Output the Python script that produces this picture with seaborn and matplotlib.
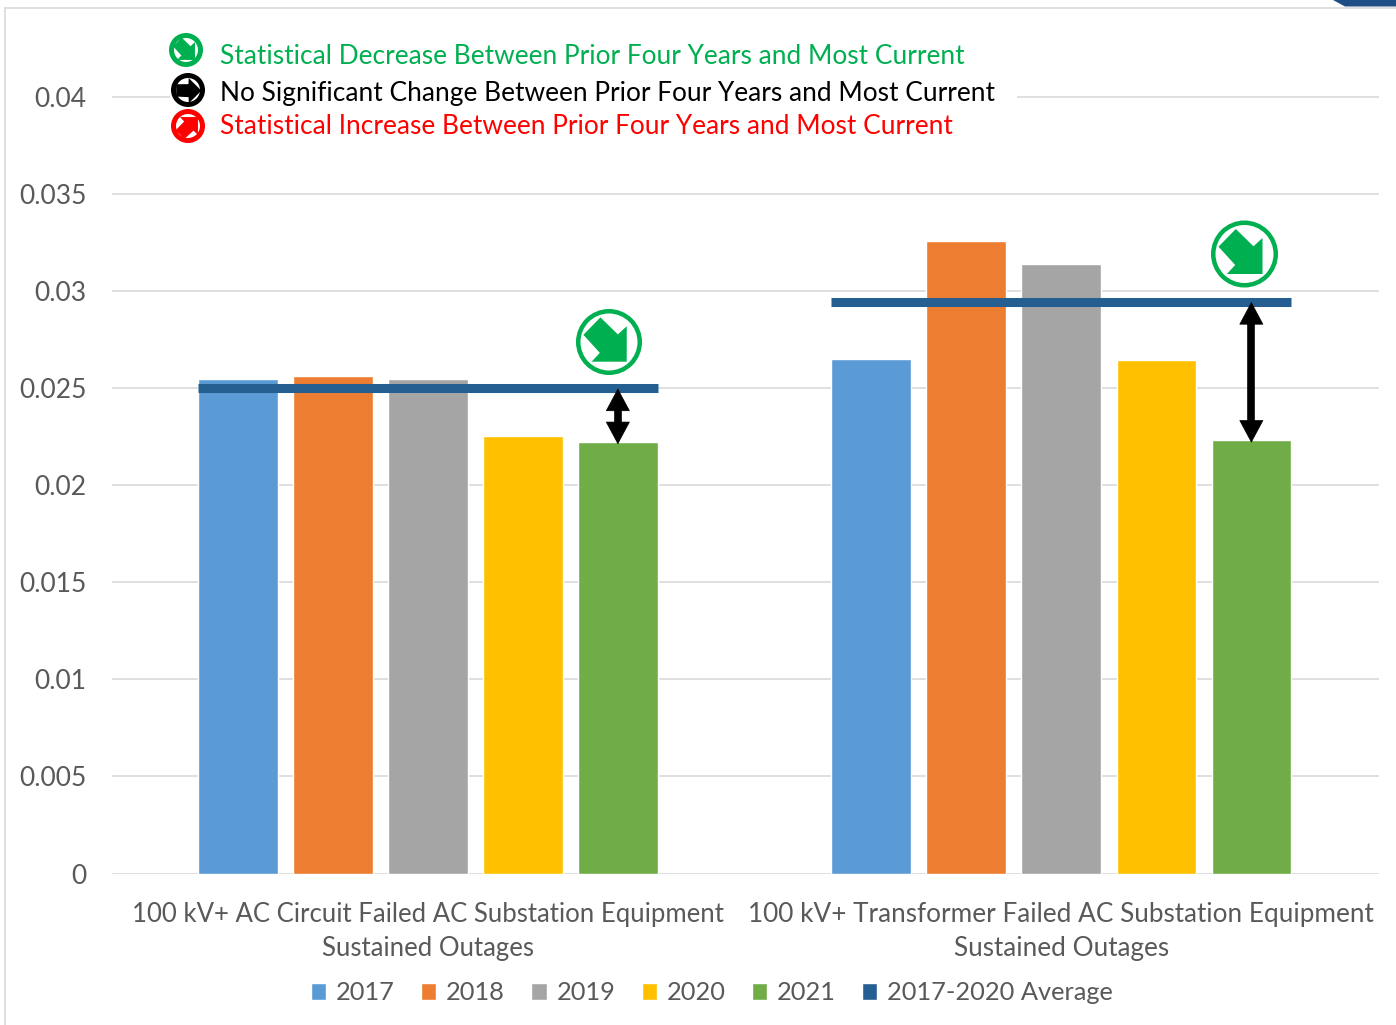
import numpy as np
import pandas as pd
import seaborn as sns
import matplotlib
matplotlib.use("Agg")
import matplotlib.pyplot as plt
from matplotlib.patches import Circle, Polygon, Rectangle, Patch
from matplotlib.lines import Line2D
from matplotlib.transforms import Affine2D

# Outage rates per category and year
categories = [
    "100 kV+ AC Circuit Failed AC Substation Equipment\nSustained Outages",
    "100 kV+ Transformer Failed AC Substation Equipment\nSustained Outages",
]
years = ["2017", "2018", "2019", "2020", "2021"]
rate_2017 = [0.02549, 0.02652]
rate_2018 = [0.02564, 0.03260]
rate_2019 = [0.02549, 0.03142]
rate_2020 = [0.02255, 0.02647]
rate_2021 = [0.02224, 0.02232]
average_2017_2020 = [0.0250, 0.02946]
average_label = "2017-2020 Average"
y_ticks = [0, 0.005, 0.01, 0.015, 0.02, 0.025, 0.03, 0.035, 0.04]
y_tick_labels = ["0", "0.005", "0.01", "0.015", "0.02", "0.025", "0.03", "0.035", "0.04"]
key_texts = [
    "Statistical Decrease Between Prior Four Years and Most Current",
    "No Significant Change Between Prior Four Years and Most Current",
    "Statistical Increase Between Prior Four Years and Most Current",
]

year_colors = ["#5B9BD5", "#ED7D31", "#A5A5A5", "#FFC000", "#70AD47"]
average_color = "#255E91"
green, red = "#00B050", "#FF0000"
text_grey = "#595959"
rule_grey = "#D9D9D9"

W, H = 1396, 1025
sns.set_theme(style="white")
plt.rcParams["font.family"] = ["Lato", "DejaVu Sans"]

rates = pd.DataFrame(
    {"category": categories * 5,
     "year": np.repeat(years, 2),
     "rate": rate_2017 + rate_2018 + rate_2019 + rate_2020 + rate_2021}
)

fig = plt.figure(figsize=(W / 100, H / 100), dpi=100, facecolor="white")
ax = fig.add_axes([112 / W, (H - 873.5) / H, (1379 - 112) / W, (873.5 - 8) / H])

sns.barplot(data=rates, x="category", y="rate", hue="year", palette=year_colors,
            width=0.75, gap=0.162, saturation=1, legend=False, ax=ax)

ax.set_xlim(-0.4985, 1.5015)
ax.set_ylim(0, 0.04461)
ax.set_xlabel("")
ax.set_ylabel("")
ax.set_yticks(y_ticks, y_tick_labels)
ax.tick_params(axis="y", length=0, pad=18.3, labelsize=19, labelcolor=text_grey)
ax.tick_params(axis="x", length=0, pad=20.5, labelsize=18.8, labelcolor=text_grey)
ax.get_xticklabels()[0].set_fontsize(18.55)
for label in ax.get_xticklabels():
    label.set_linespacing(1.45)
ax.yaxis.grid(True, color=rule_grey, linewidth=1.2)
ax.set_axisbelow(True)
sns.despine(ax=ax, left=True, bottom=True, top=True, right=True)

# Average line across each group, and the gap arrow above the latest bar
bars = [p for p in ax.patches if p.get_height() > 0]
by_x = sorted(bars, key=lambda p: p.get_x())
for i, avg in enumerate(average_2017_2020):
    group = by_x[i * 5:(i + 1) * 5]
    x0 = group[0].get_x()
    x1 = group[-1].get_x() + group[-1].get_width()
    ax.hlines(avg, x0, x1, color=average_color, linewidth=6.5, zorder=4)
    latest = group[-1]
    xc = latest.get_x() + latest.get_width() / 2
    top = latest.get_height()
    ax.vlines(xc, top + 0.0005, avg - 0.0005, color="black", linewidth=5.5, zorder=5)
    ax.annotate("", xy=(xc, avg), xytext=(xc, top - 0.00012),
                arrowprops=dict(arrowstyle="<|-|>,head_length=15.5,head_width=8.3",
                                mutation_scale=1, color="black", lw=0.5,
                                shrinkA=0, shrinkB=0),
                zorder=6)

# Page furniture and symbols are placed in pixels, measured from the top-left
to_px = Affine2D().scale(1, -1).translate(0, H)

ARROW = np.array([(-8.7, -25), (9, -7.7), (18, -16), (18, 20),
                  (-17.7, 20), (-9.3, 11), (-26, -7.3)]) / 33.5


def trend_icon(cx, cy, radius, color, turn_deg, ring, arrow_scale=1.0):
    """Circled arrow; turn_deg rotates it anticlockwise from pointing down-right."""
    fig.add_artist(Circle((cx, cy), radius - ring / 2, facecolor="white", edgecolor=color,
                          linewidth=ring * 0.72, transform=to_px))
    t = np.deg2rad(-turn_deg)
    rot = np.array([[np.cos(t), -np.sin(t)], [np.sin(t), np.cos(t)]])
    pts = ARROW @ rot.T * radius * arrow_scale + np.array([cx, cy])
    fig.add_artist(Polygon(pts, closed=True, facecolor=color, edgecolor="none", transform=to_px))


# Frame remnants and corner tab
fig.add_artist(Line2D([5, 5], [8, H], color=rule_grey, linewidth=1.2, transform=to_px))
fig.add_artist(Line2D([5, W], [7.5, 7.5], color=rule_grey, linewidth=1.2, transform=to_px))
fig.add_artist(Polygon([(1333, 0), (1345, 6.5), (W, 6.5), (W, 0)], closed=True,
                       facecolor="#1F4E86", edgecolor="none", transform=to_px))

# Key for the trend symbols
fig.add_artist(Rectangle((170, 78), 847, 40, facecolor="white", edgecolor="none", transform=to_px))
key_colors = [green, "black", red]
key_y = [57, 93, 127]
key_icons = [(186, 50, 0), (188, 90, 45), (188, 126, 90)]
for text, color, y, (ix, iy, turn) in zip(key_texts, key_colors, key_y, key_icons):
    trend_icon(ix, iy, 17, color, turn, 5, 0.98)
    fig.text(220 / W, 1 - y / H, text, color=color, fontsize=18.93, ha="left", va="center")

# Decrease markers above the two groups
trend_icon(609, 342, 33, green, 0, 4.5)
trend_icon(1244.5, 254, 33.5, green, 0, 4.5)

# Year legend along the bottom
handles = [Patch(facecolor=c, label=y) for c, y in zip(year_colors, years)]
handles.append(Patch(facecolor=average_color, label=average_label))
fig.legend(handles=handles, loc="center", bbox_to_anchor=(712 / W, 1 - 993 / H), ncol=6,
           frameon=False, fontsize=18.3, labelcolor=text_grey, handlelength=0.6,
           handleheight=0.6, handletextpad=0.38, columnspacing=1.04, borderpad=0)

fig.savefig("out.png", dpi=100)
